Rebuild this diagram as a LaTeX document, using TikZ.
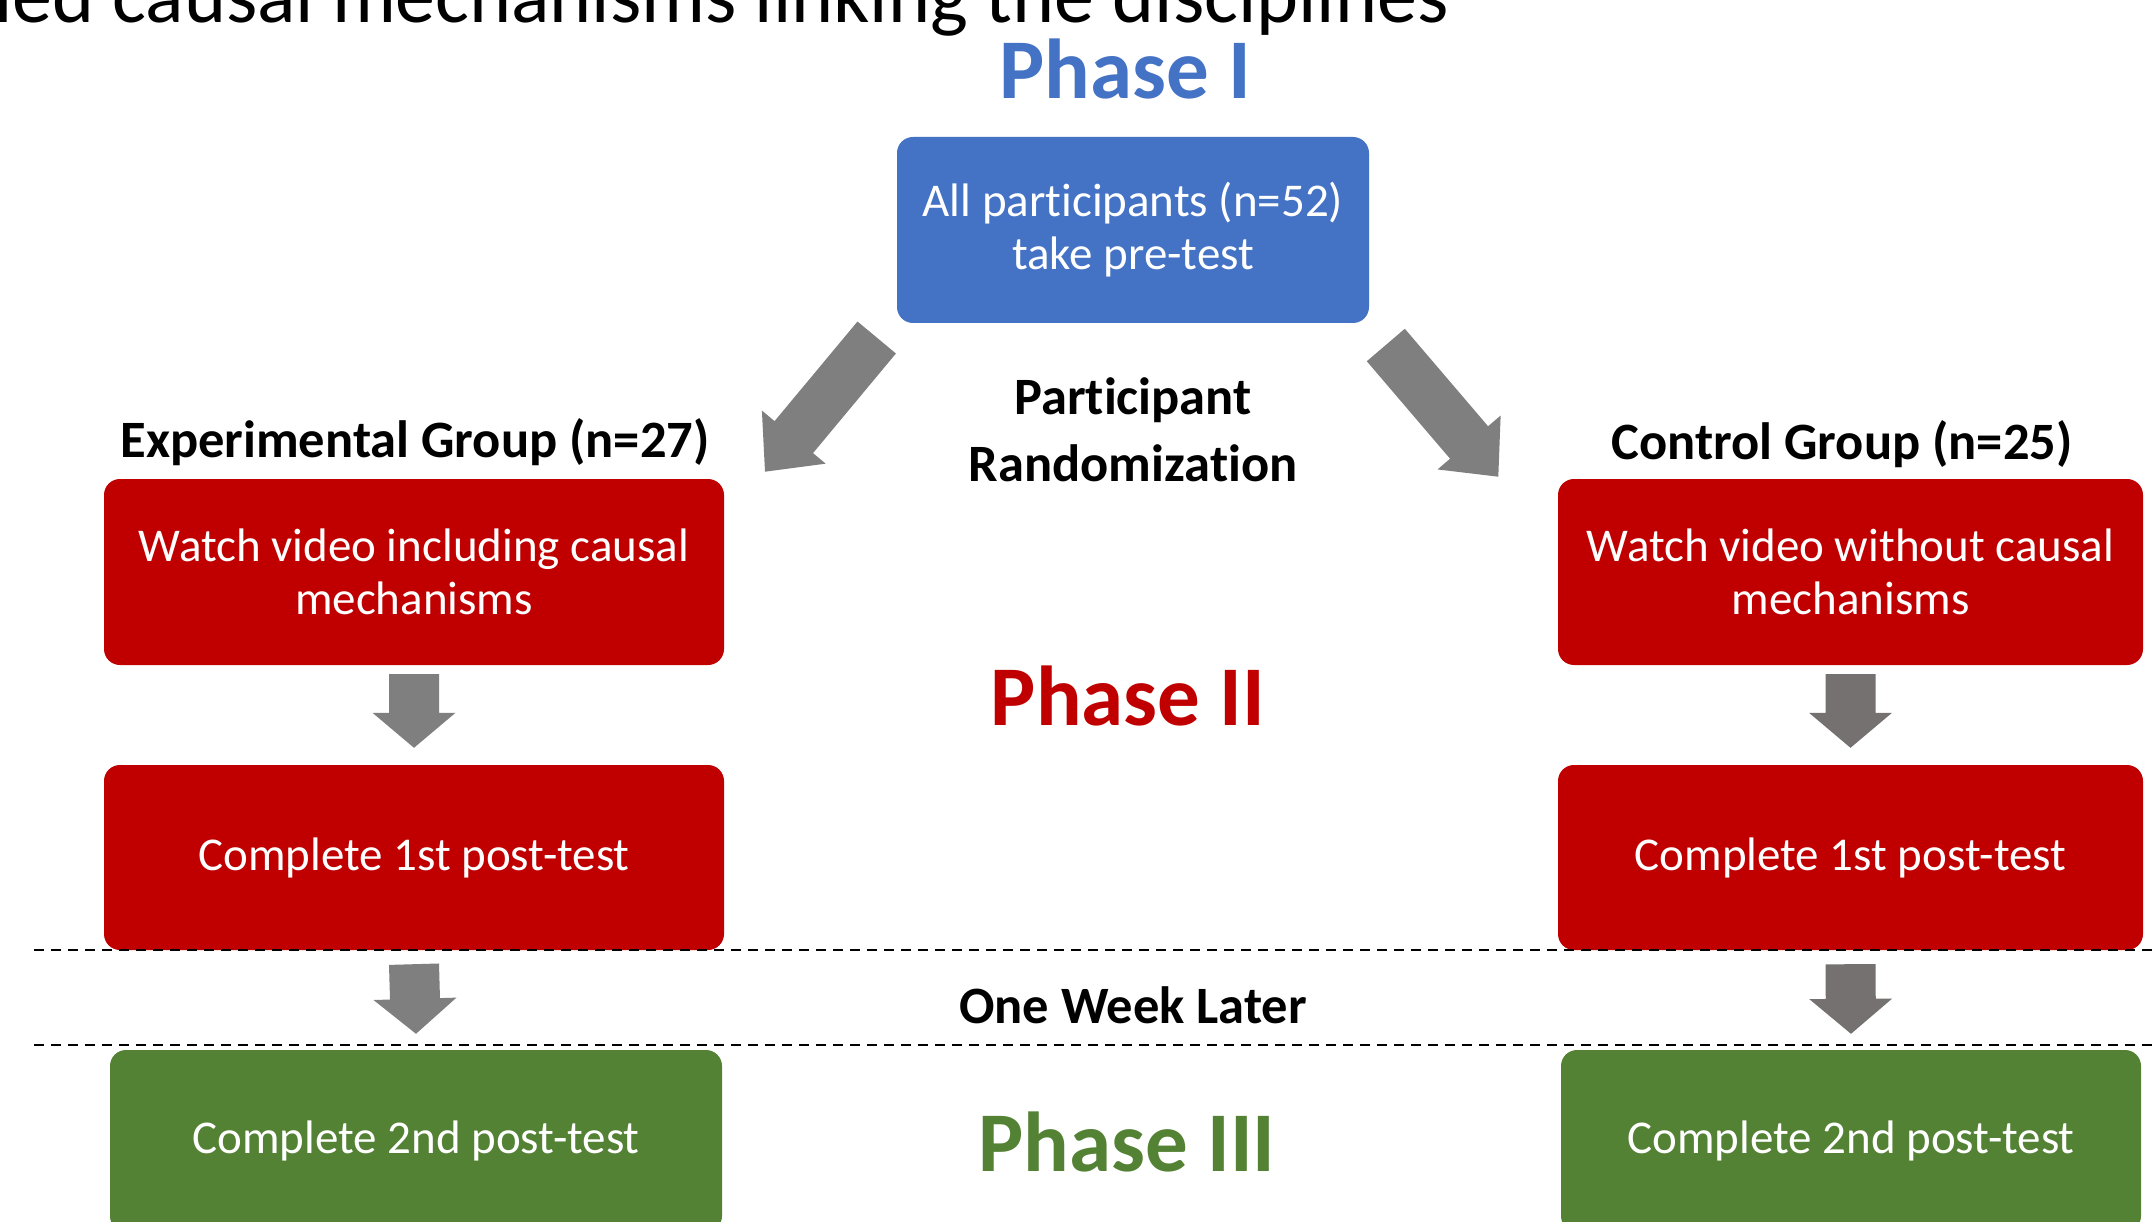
\documentclass[tikz,border=0pt]{standalone}
\usepackage{fontspec}
\setmainfont{Carlito}[Ligatures={NoCommon}]
\usetikzlibrary{calc}
\definecolor{pblue}{HTML}{4472C4}
\definecolor{pred}{HTML}{C00000}
\definecolor{pgreen}{HTML}{548235}
\definecolor{pgray}{HTML}{7F7F7F}
\definecolor{pgrayb}{HTML}{767171}
\newcommand{\blockarr}[4]{%
  \coordinate (hb) at ($(#2)!#4!(#1)$);
  \fill[#3] ($(#1)!25pt!90:(#2)$) -- ($(hb)!25pt!-90:(#1)$) -- ($(hb)!41.5pt!-90:(#1)$) -- (#2)
    -- ($(hb)!41.5pt!90:(#1)$) -- ($(hb)!25pt!90:(#1)$) -- ($(#1)!25pt!-90:(#2)$) -- cycle;}
\begin{document}
\begin{tikzpicture}[x=1pt,y=-1pt,
  box/.style={rounded corners=16pt, text=white, align=center, inner sep=0pt,
    font=\fontsize{47}{53}\selectfont},
  lbl/.style={anchor=base, inner sep=0pt, font=\fontsize{52.5}{62}\selectfont\bfseries},
  phase/.style={anchor=base, inner sep=0pt, font=\fontsize{85}{100}\selectfont\bfseries},
  dline/.style={line width=2.5pt, dash pattern=on 10pt off 7pt}]
\useasboundingbox (0,0) rectangle (2153,1222);
\fill[white] (0,0) rectangle (2153,1222);

% title (cut off)
\node[anchor=base east, inner sep=0pt, font=\fontsize{80}{96}\selectfont] (title) at (1449,23)
  {ied causal mechanisms linking the disciplines};

% phase labels
\node[phase, text=pblue] (ph1) at (1125,99) {Phase I};
\node[phase, text=pred] (ph2) at (1128,725) {Phase II};
\node[phase, text=pgreen] (ph3) at (1127,1171) {Phase III};

% boxes
\node[box, fill=pblue, minimum width=472pt, minimum height=186pt] (pre) at (1133,230)
  {All participants (n=52)\\take pre-test};
\node[box, fill=pred, minimum width=620pt, minimum height=186pt] (exp1) at (414,572)
  {Watch video including causal\\mechanisms};
\node[box, fill=pred, minimum width=620pt, minimum height=185pt] (exp2) at (414,857.5)
  {Complete 1st post-test};
\node[box, fill=pgreen, minimum width=612pt, minimum height=182pt] (exp3) at (416,1141)
  {Complete 2nd post-test};
\node[box, fill=pred, minimum width=585pt, minimum height=186pt] (con1) at (1850.5,572)
  {Watch video without causal\\mechanisms};
\node[box, fill=pred, minimum width=585pt, minimum height=185pt] (con2) at (1850.5,857.5)
  {Complete 1st post-test};
\node[box, fill=pgreen, minimum width=580pt, minimum height=182pt] (con3) at (1851,1141)
  {Complete 2nd post-test};

% labels
\node[lbl] (expl) at (415,457) {Experimental Group (n=27)};
\node[lbl] (conl) at (1842,460) {Control Group (n=25)};
\node[lbl] (rand1) at (1133,415) {Participant};
\node[lbl] (rand2) at (1133,481) {Randomization};
\node[lbl] (week) at (1133,1023) {One Week Later};

% dashed lines
\draw[dline] (34,950) -- (2153,950);
\draw[dline] (34,1045) -- (2153,1045);

% diagonal arrows
\coordinate (dlt) at (876.7,337.5);
\coordinate (dlh) at (765,471.7);
\coordinate (drt) at (1385.8,345);
\coordinate (drh) at (1498.3,476.7);
\blockarr{dlt}{dlh}{pgray}{45pt}
\blockarr{drt}{drh}{pgray}{45pt}

% down arrows
\coordinate (a1t) at ([yshift=-9pt]exp1.south);
\coordinate (a1h) at ([yshift=17pt]exp2.north);
\coordinate (a2t) at ([yshift=-14pt]exp2.south);
\coordinate (a2h) at ([yshift=16pt]exp3.north);
\coordinate (b1t) at ([yshift=-9pt]con1.south);
\coordinate (b1h) at ([yshift=17pt]con2.north);
\coordinate (b2t) at ([yshift=-14pt]con2.south);
\coordinate (b2h) at ([yshift=16pt]con3.north);
\blockarr{a1t}{a1h}{pgray}{35pt}
\blockarr{a2t}{a2h}{pgray}{35pt}
\blockarr{b1t}{b1h}{pgrayb}{35pt}
\blockarr{b2t}{b2h}{pgrayb}{35pt}
\end{tikzpicture}
\end{document}
